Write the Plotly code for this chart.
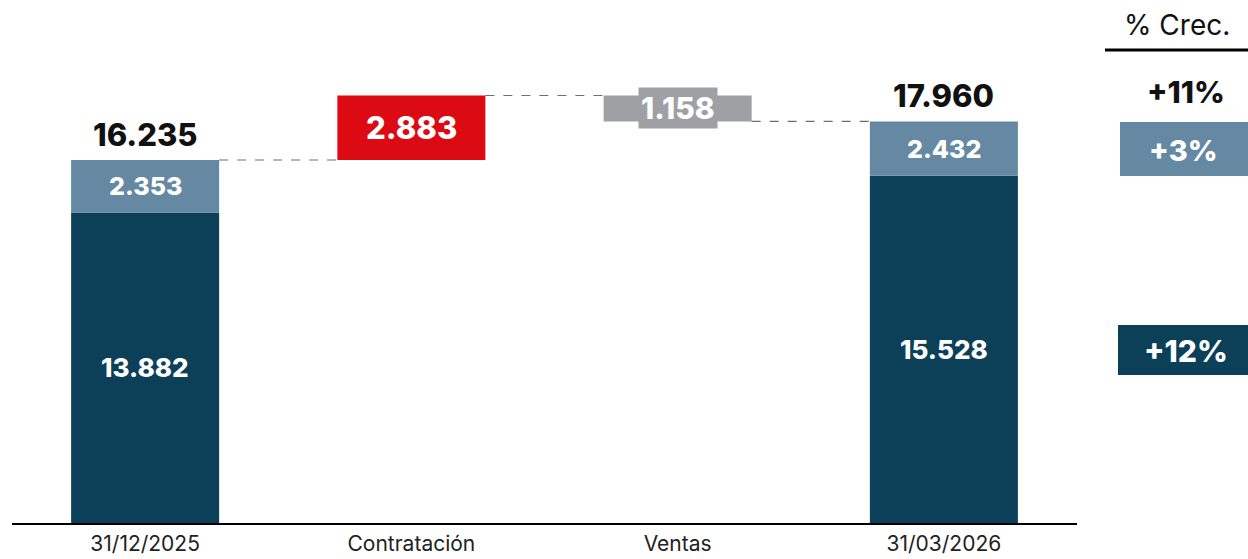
import plotly.graph_objects as go

categories = ["31/12/2025", "Contratación", "Ventas", "31/03/2026"]
dark_vals = [13.882, None, None, 15.528]
light_vals = [2.353, None, None, 2.432]
totals = [16.235, None, None, 17.960]
change_vals = [None, 2.883, -1.158, None]
growth_labels = ["+11%", "+3%", "+12%"]
header = "% Crec."

DARK = "#0B4058"
LIGHT = "#6589A2"
RED = "#DC0A13"
GRAY = "#9EA0A4"
FONT = "Inter"

def fmt(v):
    return f"{abs(v):.3f}"

red_base = totals[0]
red_top = red_base + change_vals[1]
gray_top = red_top
gray_base = gray_top + change_vals[2]

BW = 0.556
fig = go.Figure()
nol = dict(width=0)
fig.add_bar(x=[categories[0], categories[3]], y=[dark_vals[0], dark_vals[3]],
            marker=dict(color=DARK, line=nol), width=BW, hoverinfo="skip")
fig.add_bar(x=[categories[0], categories[3]], y=[light_vals[0], light_vals[3]],
            base=[dark_vals[0], dark_vals[3]], marker=dict(color=LIGHT, line=nol), width=BW, hoverinfo="skip")
fig.add_bar(x=[categories[1]], y=[change_vals[1]], base=[red_base],
            marker=dict(color=RED, line=nol), width=BW, hoverinfo="skip")
fig.add_bar(x=[categories[2]], y=[-change_vals[2]], base=[gray_base],
            marker=dict(color=GRAY, line=nol), width=BW, hoverinfo="skip")

hw = BW / 2
conn = [(0 + hw, 1 - hw, red_base), (1 + hw, 2 - hw, red_top), (2 + hw, 3 - hw, gray_base)]
for x0, x1, yv in conn:
    fig.add_shape(type="line", xref="x", yref="y", x0=x0, x1=x1, y0=yv, y1=yv,
                  line=dict(color="#6E6E6E", width=1.2, dash="dash"))

def A(**kw):
    d = dict(showarrow=False, xanchor="center", yanchor="middle")
    d.update(kw)
    return d

def F(size, color):
    return dict(size=size, color=color, family=FONT, weight=800)

ann = []
for i in (0, 3):
    ann.append(A(x=categories[i], y=dark_vals[i] / 2, text=fmt(dark_vals[i]), font=F(26, "white")))
    ann.append(A(x=categories[i], y=dark_vals[i] + light_vals[i] / 2, text=fmt(light_vals[i]),
                 font=F(25, "white")))
    ann.append(A(x=categories[i], y=totals[i], text=fmt(totals[i]), yanchor="bottom", yshift=5,
                 font=F(31, "#111111")))
ann.append(A(x=categories[1], y=red_base + change_vals[1] / 2, text=fmt(change_vals[1]), font=F(31, "white")))
ann.append(A(x=categories[2], y=gray_base - change_vals[2] / 2, text=fmt(change_vals[2]),
             font=F(30, "white"), bgcolor=GRAY, borderpad=2))

L, R, T, B = 12, 171, 0, 36
W, H = 1248, 559
PW, PH = W - L - R, H - T - B

def px(x):
    return (x - L) / PW

def py(y):
    return (H - B - y) / PH

ann.append(A(xref="paper", yref="paper", x=px(1177), y=py(25), text=header,
             font=dict(size=28, color="#111111", family=FONT)))
ann.append(A(xref="paper", yref="paper", x=px(1186), y=py(92), text=growth_labels[0], font=F(30, "#111111")))
ann.append(A(xref="paper", yref="paper", x=px(1183), y=py(150), text=growth_labels[1], font=F(29, "white")))
ann.append(A(xref="paper", yref="paper", x=px(1186), y=py(351), text=growth_labels[2], font=F(30, "white")))

fig.add_shape(type="line", xref="paper", yref="paper", x0=px(1105), x1=px(1248), y0=py(50), y1=py(50),
              line=dict(color="black", width=3))
fig.add_shape(type="rect", xref="paper", yref="paper", x0=px(1120), x1=px(1248), y0=py(176), y1=py(122),
              fillcolor=LIGHT, line=dict(width=0), layer="below")
fig.add_shape(type="rect", xref="paper", yref="paper", x0=px(1118), x1=px(1248), y0=py(375), y1=py(325),
              fillcolor=DARK, line=dict(width=0), layer="below")

fig.update_layout(
    width=W, height=H, barmode="overlay", showlegend=False,
    margin=dict(l=L, r=R, t=T, b=B, autoexpand=False),
    paper_bgcolor="white", plot_bgcolor="white",
    annotations=ann,
    xaxis=dict(showline=True, linecolor="black", linewidth=2, ticks="", showgrid=False,
               categoryorder="array", categoryarray=categories, ticklabelstandoff=1,
               automargin=False,
               tickfont=dict(size=21, color="#222222", family=FONT), fixedrange=True),
    yaxis=dict(visible=False, range=[0, 23.39], showgrid=False, zeroline=False),
)

fig.write_html("out.html")
